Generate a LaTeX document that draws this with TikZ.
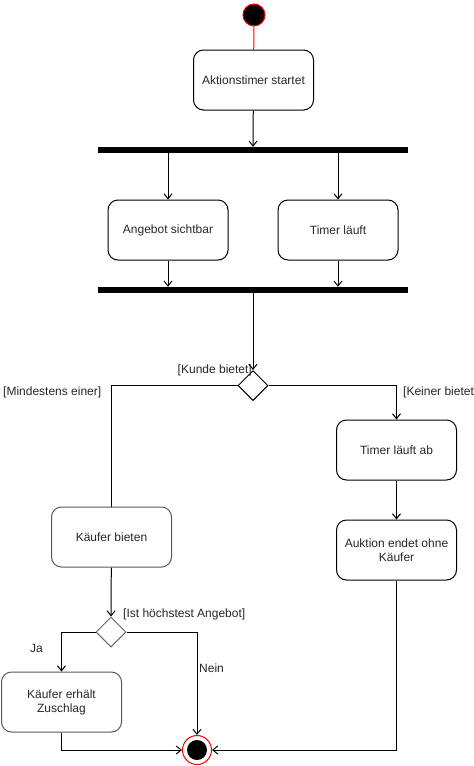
\documentclass[tikz,border=0pt]{standalone}
\usepackage{fontspec}
\setmainfont{Liberation Sans}
\usetikzlibrary{arrows.meta,shapes.geometric}
\begin{document}
\begin{tikzpicture}[x=1pt,y=-1pt,
  font=\fontsize{12}{14}\selectfont,
  action/.style={draw, rounded corners=10pt, minimum width=120pt, minimum height=60pt,
    align=center, line width=1pt, inner sep=2pt, text=black!85},
  grayaction/.style={action, draw=black!65},
  bar/.style={fill=black, minimum width=310pt, minimum height=6pt, inner sep=0pt},
  choice/.style={draw, diamond, minimum width=30pt, minimum height=30pt, inner sep=0pt, line width=1pt},
  guard/.style={text=black!85, inner sep=0pt},
  link/.style={line width=1pt},
  flow/.style={link, -{Straight Barb[length=5pt,width=8pt]}}]
\useasboundingbox (0,0) rectangle (474,766);
\clip (0,0) rectangle (474,766);

% initial node and the start of the timer
\node[circle, draw=red, fill=black, minimum size=22pt, inner sep=0pt, line width=1pt] (start) at (254,15) {};
\node[action] (a1) at (253.5,80) {Aktionstimer startet};

% fork into two parallel activities, then join
\node[bar] (fork1) at (253,150) {};
\node[action] (b1) at (168,230) {Angebot sichtbar};
\node[action] (b2) at (338,230) {Timer läuft};
\node[bar] (join1) at (253,290) {};

% first decision
\node[choice] (d1) at (253,385.5) {};

% left branch
\node[grayaction] (c1) at (111.5,537) {Käufer bieten};
\node[choice, draw=black!60] (d2) at (111,632) {};
\node[grayaction] (z1) at (61.5,702) {Käufer erhält\\Zuschlag};

% right branch
\node[action] (t1) at (396.5,450) {Timer läuft ab};
\node[action] (e1) at (396.5,550) {Auktion endet ohne\\Käufer};

% final node
\node[circle, draw=red, minimum size=29pt, inner sep=0pt, line width=1pt] (end) at (197,750) {};
\fill[black] (end.center) circle (10pt);

% connectors
\draw[link, red] (start) -- (a1);
\draw[flow] (a1) -- (fork1.north);
\draw[flow] (fork1.south -| b1) -- (b1.north);
\draw[flow] (fork1.south -| b2) -- (b2.north);
\draw[flow] (b1) -- (b1 |- join1.north);
\draw[flow] (b2) -- (b2 |- join1.north);
\draw[flow] (join1.south) -- (d1.north);
\draw[link] (d1.west) -| (c1.north);
\draw[flow] (d1.east) -| (t1.north);
\draw[flow] (t1) -- (e1);
\draw[flow] (e1.south) |- (end.east);
\draw[flow] (c1) -- (d2.north);
\draw[flow] (d2.west) -| (z1.north);
\draw[flow] (d2.east) -| (end.north);
\draw[flow] (z1.south) |- (end.west);

% guard labels
\node[guard, anchor=east] (g1) at (252,370) {[Kunde bietet]};
\node[guard, anchor=west] (g2) at (3,392) {[Mindestens einer]};
\node[guard, anchor=west] (g3) at (403,392) {[Keiner bietet]};
\node[guard, anchor=west] (g4) at (123,614) {[Ist höchstest Angebot]};
\node[guard, anchor=west] (g5) at (30,648) {Ja};
\node[guard, anchor=west] (g6) at (199,668) {Nein};
\end{tikzpicture}
\end{document}
